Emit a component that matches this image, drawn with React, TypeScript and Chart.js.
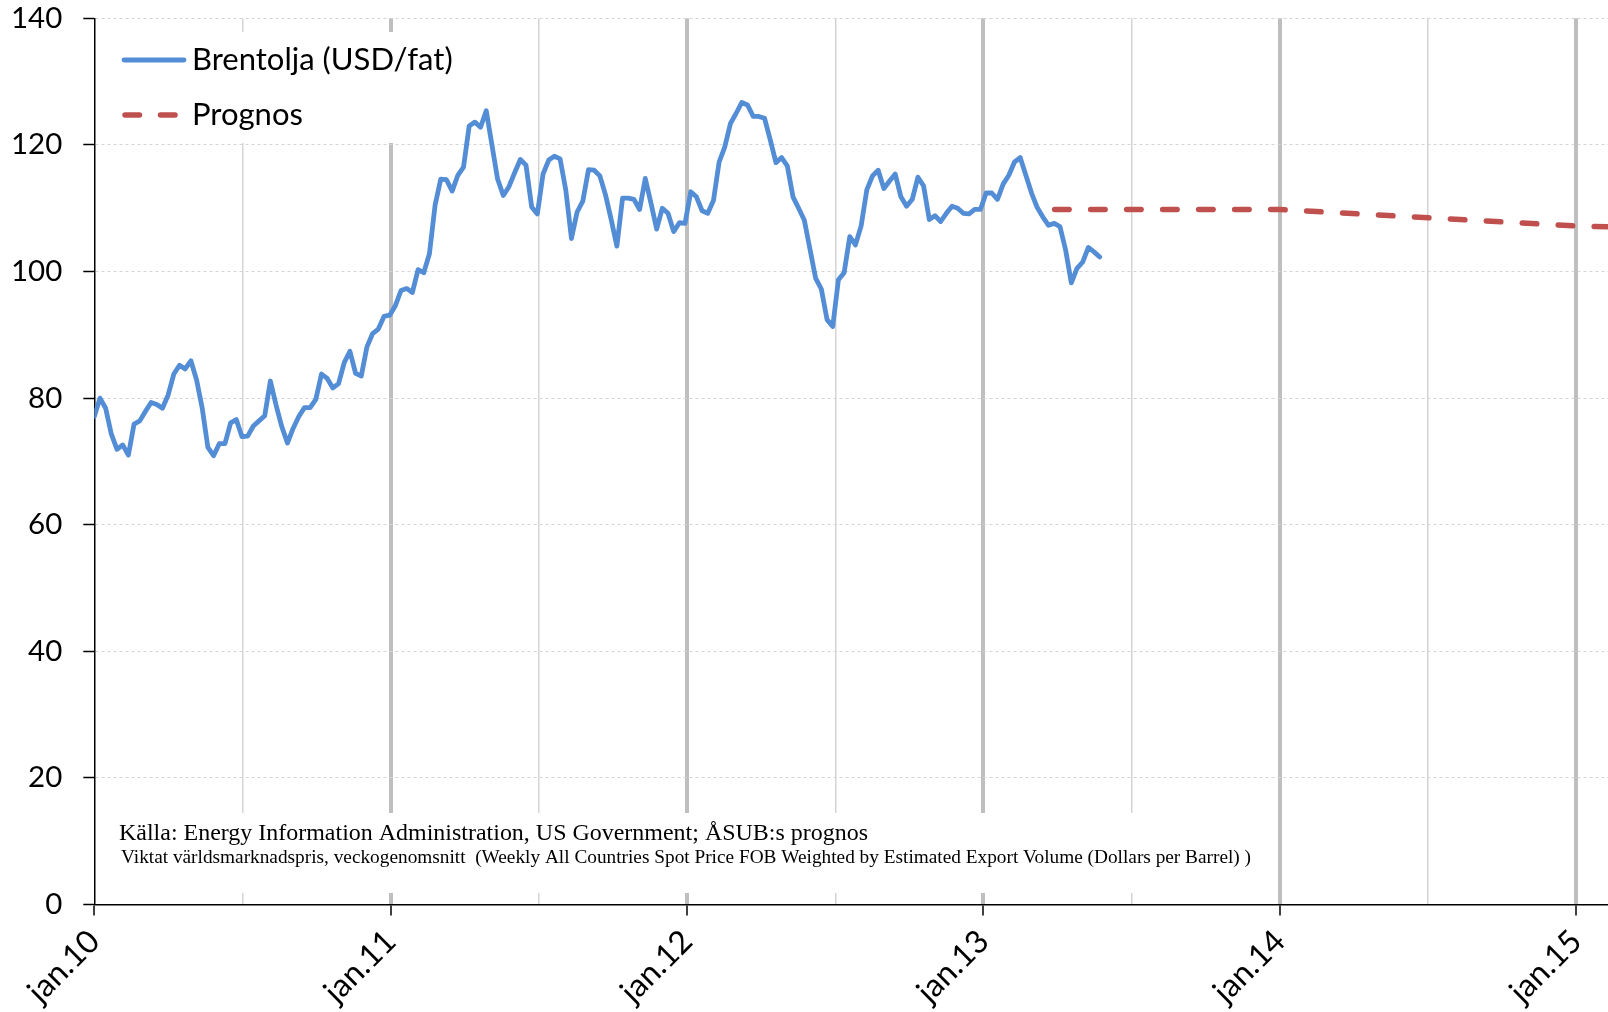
import React, { useEffect, useRef } from "react";
import { Chart, registerables } from "chart.js";

Chart.register(...registerables);

// ---- Data ----
const seriesNames = ["Brentolja (USD/fat)", "Prognos"];

// Weekly Brent price (USD/barrel), first week = jan.10
const firstWeekYear = 2010;
const weeksPerYear = 52.18;
const brentWeekly = [
  77.1, 80.0, 78.4, 74.3, 71.9, 72.6, 71.0, 75.9, 76.4, 77.9,
  79.3, 79.0, 78.4, 80.5, 83.8, 85.2, 84.6, 85.9, 82.9, 78.4,
  72.2, 70.9, 72.8, 72.8, 76.1, 76.6, 73.9, 74.0, 75.6, 76.4,
  77.2, 82.7, 78.9, 75.5, 72.9, 75.2, 77.1, 78.5, 78.5, 79.8,
  83.8, 83.1, 81.6, 82.3, 85.6, 87.4, 83.9, 83.5, 88.1, 90.2,
  90.9, 92.9, 93.1, 94.6, 97.0, 97.3, 96.7, 100.3, 99.8, 102.8,
  110.5, 114.6, 114.5, 112.7, 115.2, 116.5, 123.0, 123.6, 122.8, 125.4,
  120.0, 114.6, 112.0, 113.4, 115.6, 117.7, 116.8, 110.2, 109.1, 115.4,
  117.6, 118.2, 117.8, 112.9, 105.2, 109.4, 111.1, 116.1, 116.0, 115.1,
  112.1, 108.2, 104.0, 111.6, 111.6, 111.4, 109.8, 114.7, 110.8, 106.7,
  110.0, 109.2, 106.3, 107.7, 107.6, 112.6, 111.8, 109.6, 109.2, 111.2,
  117.3, 119.7, 123.4, 125.0, 126.7, 126.3, 124.5, 124.5, 124.2, 120.8,
  117.2, 118.0, 116.7, 111.8, 110.0, 108.1, 103.5, 98.9, 97.2, 92.4,
  91.3, 98.7, 99.8, 105.5, 104.2, 107.2, 112.9, 115.1, 116.0, 113.1,
  114.3, 115.4, 111.8, 110.3, 111.4, 114.9, 113.5, 108.2, 108.8, 107.9,
  109.2, 110.3, 110.0, 109.2, 109.1, 109.8, 109.8, 112.4, 112.4, 111.4,
  113.8, 115.2, 117.3, 118.0, 115.2, 112.4, 110.1, 108.6, 107.3, 107.6,
  107.1, 103.4, 98.2, 100.5, 101.5, 103.8, 103.1, 102.3,
];

// Forecast (ÅSUB)
const prognosDates = [2013.24, 2013.5, 2014.0, 2014.5, 2015.0, 2015.25];
const prognosValues = [109.8, 109.8, 109.8, 108.5, 107.2, 106.9];

// Axes
const xMin = 2010;
const xMax = 2015.107;
const yearTicks = [2010, 2011, 2012, 2013, 2014, 2015];
const halfYearTicks = [2010.5, 2011.5, 2012.5, 2013.5, 2014.5];
const yMin = 0;
const yMax = 140;
const yStep = 20;

const sourceLines = [
  "Källa: Energy Information Administration, US Government; ÅSUB:s prognos",
  "Viktat världsmarknadspris, veckogenomsnitt  (Weekly All Countries Spot Price FOB Weighted by Estimated Export Volume (Dollars per Barrel) )",
];

// ---- Styles ----
const BLUE = "#538DD5";
const RED = "#C0504D";
const SANS = "Lato, 'Noto Sans', sans-serif";
const SERIF = "'Liberation Serif', 'DejaVu Serif', serif";

const isYear = (v: number) => Math.abs(v - Math.round(v)) < 1e-6;

function fitText(ctx: CanvasRenderingContext2D, text: string, x: number, y: number, targetWidth: number) {
  const w = ctx.measureText(text).width;
  const sx = w > 0 ? targetWidth / w : 1;
  ctx.save();
  ctx.translate(x, y);
  ctx.scale(sx, 1);
  ctx.fillText(text, 0, 0);
  ctx.restore();
}

const overlayPlugin = {
  id: "overlayBoxes",
  beforeDatasetsDraw(chart: any) {
    const ctx = chart.ctx as CanvasRenderingContext2D;
    ctx.save();
    // white legend box and source text box
    ctx.fillStyle = "#ffffff";
    ctx.fillRect(104, 32, 356, 111);
    ctx.fillRect(104, 813, 1162, 80);

    // legend
    ctx.lineCap = "round";
    ctx.strokeStyle = BLUE;
    ctx.lineWidth = 4.8;
    ctx.beginPath();
    ctx.moveTo(124, 60);
    ctx.lineTo(184, 60);
    ctx.stroke();

    ctx.strokeStyle = RED;
    ctx.lineWidth = 5.5;
    ctx.beginPath();
    ctx.moveTo(125, 115);
    ctx.lineTo(139.5, 115);
    ctx.moveTo(160.5, 115);
    ctx.lineTo(175, 115);
    ctx.stroke();

    ctx.fillStyle = "#000";
    ctx.textBaseline = "alphabetic";
    ctx.textAlign = "left";
    ctx.font = `31px ${SANS}`;
    ctx.fillText(chart.data.datasets[0].label, 192, 70);
    ctx.fillText(chart.data.datasets[1].label, 192, 124.5);

    // source text
    ctx.font = `24px ${SERIF}`;
    fitText(ctx, sourceLines[0], 119, 840, 749);
    ctx.font = `18px ${SERIF}`;
    fitText(ctx, sourceLines[1], 121, 862.5, 1130);
    ctx.restore();
  },
};

export default function App() {
  const canvasRef = useRef<HTMLCanvasElement | null>(null);

  useEffect(() => {
    document.body.style.margin = "0";
    const canvas = canvasRef.current;
    if (!canvas) return;

    const brentPoints = brentWeekly.map((v, i) => ({
      x: firstWeekYear + i / weeksPerYear,
      y: v,
    }));
    const prognosPoints = prognosDates.map((d, i) => ({ x: d, y: prognosValues[i] }));
    const xTickValues = [...yearTicks, ...halfYearTicks].sort((a, b) => a - b);

    const chart = new Chart(canvas, {
      type: "line",
      data: {
        datasets: [
          {
            label: seriesNames[0],
            data: brentPoints,
            borderColor: BLUE,
            borderWidth: 4.8,
            pointRadius: 0,
            tension: 0,
            borderJoinStyle: "round",
            borderCapStyle: "round",
          },
          {
            label: seriesNames[1],
            data: prognosPoints,
            borderColor: RED,
            borderWidth: 5.5,
            borderDash: [14.5, 21.5],
            borderCapStyle: "round",
            pointRadius: 0,
            tension: 0,
          },
        ],
      },
      options: {
        animation: false,
        responsive: false,
        maintainAspectRatio: false,
        devicePixelRatio: 1,
        layout: { padding: { top: 18.3, left: 0, right: 0, bottom: 0 } },
        plugins: {
          legend: { display: false },
          tooltip: { enabled: false },
        },
        scales: {
          x: {
            type: "linear",
            min: xMin,
            max: xMax,
            afterBuildTicks: (scale: any) => {
              scale.ticks = xTickValues.map((v) => ({ value: v }));
            },
            afterFit: (scale: any) => {
              scale.height = 107.5;
              scale.paddingLeft = 0;
              scale.paddingRight = 0;
            },
            ticks: {
              autoSkip: false,
              maxRotation: 45,
              minRotation: 45,
              padding: 7,
              color: "#000",
              font: { family: SANS, size: 32 },
              callback: (v: any) => (isYear(Number(v)) ? "jan." + String(Math.round(Number(v))).slice(2) : ""),
            },
            grid: {
              color: (c: any) => {
                const v = c.tick ? c.tick.value : 0;
                if (v === xMin) return "rgba(0,0,0,0)";
                return isYear(v) ? "#BFBFBF" : "#D4D4D4";
              },
              lineWidth: (c: any) => (c.tick && isYear(c.tick.value) ? 4 : 1.5),
              tickColor: (c: any) => (c.tick && isYear(c.tick.value) ? "#000" : "rgba(0,0,0,0)"),
              tickWidth: 1.5,
              tickLength: 11,
            },
            border: { color: "#000", width: 1.5 },
          },
          y: {
            type: "linear",
            min: yMin,
            max: yMax,
            afterFit: (scale: any) => {
              scale.width = 94.3;
              scale.paddingTop = 0;
              scale.paddingBottom = 0;
            },
            ticks: {
              stepSize: yStep,
              padding: 21,
              color: "#000",
              font: { family: SANS, size: 29.5 },
            },
            grid: {
              color: "#D4D4D4",
              lineWidth: 1,
              tickColor: "#000",
              tickWidth: 1.5,
              tickLength: 11,
            },
            border: { color: "#000", width: 1.5, dash: [3, 3] },
          },
        },
      },
      plugins: [overlayPlugin],
    });

    return () => chart.destroy();
  }, []);

  return (
    <div style={{ position: "fixed", left: 0, top: 0, width: 1608, height: 1012, background: "#fff" }}>
      <canvas ref={canvasRef} width={1608} height={1012} style={{ width: 1608, height: 1012, display: "block" }} />
    </div>
  );
}
